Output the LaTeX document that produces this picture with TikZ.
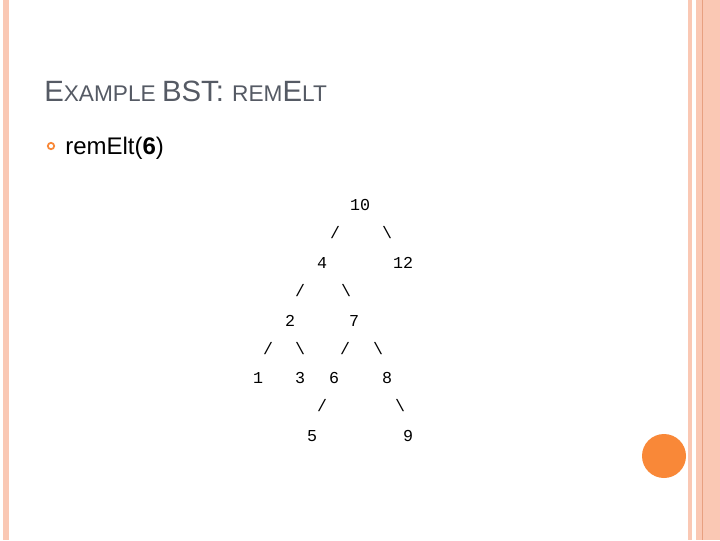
\documentclass[tikz,border=0pt]{standalone}
\usepackage{fontspec}
\setmainfont{Liberation Sans}
\newfontfamily\mono{Liberation Mono}
\definecolor{peach}{HTML}{FAC8B4}
\definecolor{peachdark}{HTML}{E8A080}
\definecolor{orng}{HTML}{F98838}
\definecolor{titlegray}{HTML}{555A64}
\tikzset{t/.style={font=\mono\fontsize{12.5}{14}\selectfont, inner sep=0pt, anchor=center}}
\begin{document}
\begin{tikzpicture}[x=0.75pt,y=-0.75pt]
\useasboundingbox (0,0) rectangle (720,540);
\fill[white] (0,0) rectangle (720,540);
\fill[peach] (3,0) rectangle (9,540);
\fill[peach] (688,0) rectangle (692,540);
\fill[peach] (696,0) rectangle (720,540);
\draw[peachdark,line width=0.75pt] (702,0) -- (702,540);
\fill[orng] (664,456) circle (22);
\node[anchor=base west, inner sep=0pt, text=titlegray] (title) at (44,101) {\fontsize{22}{24}\selectfont E\fontsize{17}{19}\selectfont XAMPLE \fontsize{22}{24}\selectfont BST: \fontsize{17}{19}\selectfont REM\fontsize{22}{24}\selectfont E\fontsize{17}{19}\selectfont LT};
\draw[orng, line width=1.3pt] (51,146) circle (3.2);
\node[anchor=base west, inner sep=0pt] (b1) at (65,154) {\fontsize{18}{20}\selectfont remElt(\textbf{6})};
\node[t] (n10) at (360,205) {10};
\node[t] (s1) at (335,233) {/};
\node[t] (s2) at (387,233) {\textbackslash};
\node[t] (n4) at (322,263) {4};
\node[t] (n12) at (403,263) {12};
\node[t] (s3) at (300,291) {/};
\node[t] (s4) at (346,291) {\textbackslash};
\node[t] (n2) at (290,321) {2};
\node[t] (n7) at (354,321) {7};
\node[t] (s5) at (268,349) {/};
\node[t] (s6) at (300,349) {\textbackslash};
\node[t] (s7) at (345,349) {/};
\node[t] (s8) at (378,349) {\textbackslash};
\node[t] (n1) at (258,378) {1};
\node[t] (n3) at (300,378) {3};
\node[t] (n6) at (334,378) {6};
\node[t] (n8) at (387,378) {8};
\node[t] (s9) at (322,406) {/};
\node[t] (s10) at (400,406) {\textbackslash};
\node[t] (n5) at (312,436) {5};
\node[t] (n9) at (408,436) {9};
\end{tikzpicture}
\end{document}
